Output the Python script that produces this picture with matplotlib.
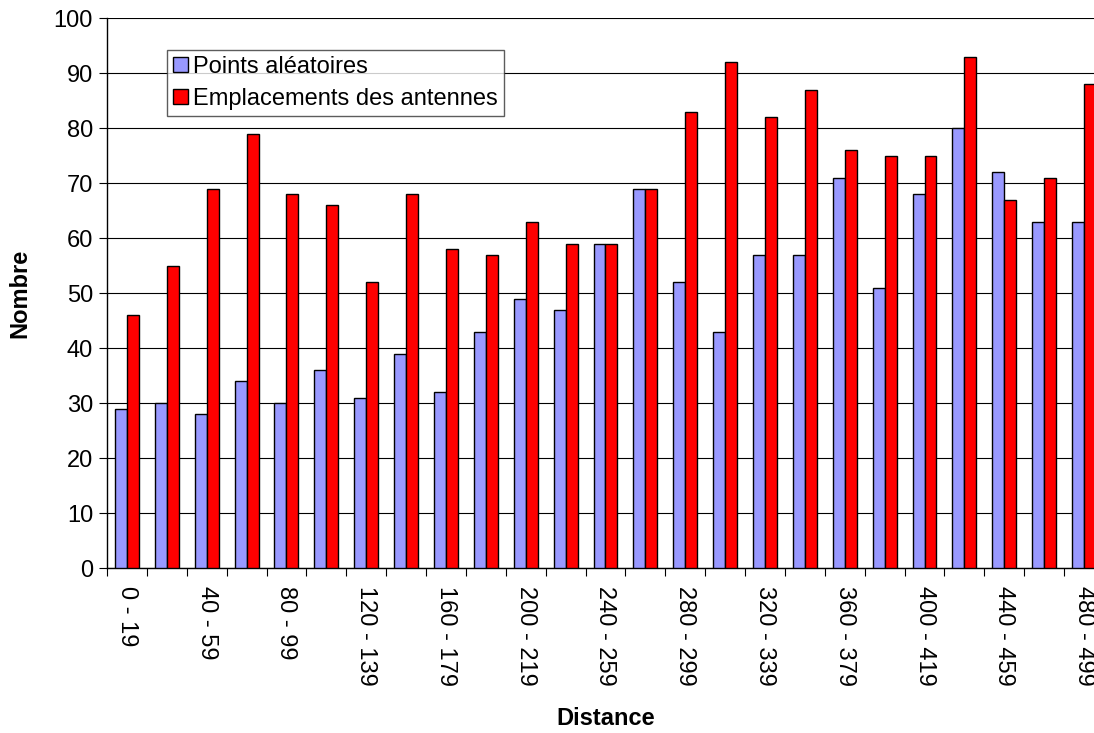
import numpy as np
import matplotlib.pyplot as plt

# Classes de distance
categories = [f"{d} - {d + 19}" for d in range(0, 500, 20)]

points_aleatoires = [29, 30, 28, 34, 30, 36, 31, 39, 32, 43, 49, 47, 59,
                     69, 52, 43, 57, 57, 71, 51, 68, 80, 72, 63, 63]
emplacements_antennes = [46, 55, 69, 79, 68, 66, 52, 68, 58, 57, 63, 59, 59,
                         69, 83, 92, 82, 87, 76, 75, 75, 93, 67, 71, 88]

plt.rcParams['font.family'] = ['Liberation Sans', 'DejaVu Sans']

fig = plt.figure(figsize=(10.94, 7.33), dpi=100)
ax = fig.add_axes([0.0978, 0.2251, 0.9113, 0.7503])

x = np.arange(len(categories))
w = 0.3
ax.bar(x - w / 2, points_aleatoires, w, color='#9999FF', edgecolor='black',
       linewidth=1, label='Points aléatoires', zorder=3)
ax.bar(x + w / 2, emplacements_antennes, w, color='#FF0000', edgecolor='black',
       linewidth=1, label='Emplacements des antennes', zorder=3)

ax.set_xlim(-0.5, len(categories) - 0.5)
ax.set_ylim(0, 100)
ax.set_yticks(range(0, 101, 10))
ax.yaxis.grid(True, color='black', linewidth=0.8, zorder=0)

# graduations aux limites des classes, étiquettes une classe sur deux
ax.set_xticks(np.arange(-0.5, len(categories), 1.0))
ax.set_xticklabels([])
ax.set_xticks(x[::2], minor=True)
ax.set_xticklabels(categories[::2], minor=True, rotation=270, fontsize=17)
ax.tick_params(axis='x', which='major', length=6, direction='out', color='black')
ax.tick_params(axis='x', which='minor', length=0, pad=13)
ax.tick_params(axis='y', length=6, direction='out', labelsize=17, pad=4)

for s in ['top', 'right']:
    ax.spines[s].set_visible(False)
ax.spines['left'].set_linewidth(1)
ax.spines['bottom'].set_linewidth(1)

ax.set_xlabel('Distance', fontsize=17, fontweight='bold')
ax.set_ylabel('Nombre', fontsize=17, fontweight='bold')
ax.xaxis.set_label_coords(0.5, -0.252)
ax.yaxis.set_label_coords(-0.076, 0.5)

leg = ax.legend(loc='upper left', bbox_to_anchor=(0.0602, 0.9418), fontsize=17,
                frameon=True, fancybox=False, edgecolor='#333333',
                handlelength=0.62, handleheight=0.62, handletextpad=0.25,
                borderpad=0.25, labelspacing=0.42, borderaxespad=0)
leg.get_frame().set_linewidth(1)

fig.savefig('out.png', dpi=100)
